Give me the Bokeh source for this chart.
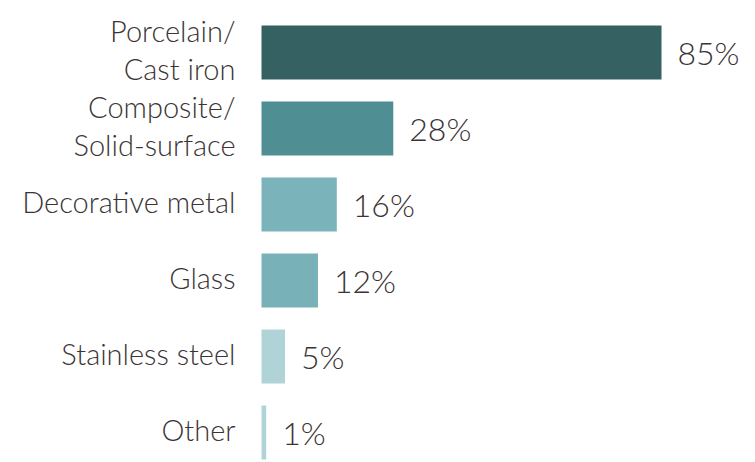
from bokeh.plotting import figure
from bokeh.models import ColumnDataSource, Range1d
from bokeh.core.properties import value
from bokeh.embed import file_html
from bokeh.resources import INLINE

categories = ["Porcelain/\nCast iron", "Composite/\nSolid-surface", "Decorative metal",
              "Glass", "Stainless steel", "Other"]
values = [85, 28, 16, 12, 5, 1]
value_labels = ["85%", "28%", "16%", "12%", "5%", "1%"]
colors = ["#356163", "#4f8e93", "#7ab3b9", "#78b2b8", "#afd3d6", "#afd3d6"]

pos = list(range(len(categories)))
src = ColumnDataSource(dict(pos=pos, cat=categories, val=values, lab=value_labels, col=colors))

W, H = 755, 462
zero_x = 261          # pixel of zero
ppu = 400 / 85        # pixels per percent
top0 = 52             # centre of first bar
pitch = 76
p = figure(width=W, height=H, output_backend="svg", toolbar_location=None,
           x_range=Range1d(-zero_x / ppu, (W - zero_x) / ppu),
           y_range=Range1d((H - top0) / pitch, -top0 / pitch),
           min_border_left=0, min_border_right=0, min_border_top=0, min_border_bottom=0)
p.xaxis.visible = False
p.yaxis.visible = False
p.xgrid.visible = False
p.ygrid.visible = False
p.outline_line_color = None
p.background_fill_color = "white"
p.border_fill_color = "white"

p.hbar(y="pos", right="val", left=0, height=54 / pitch, fill_color="col", line_color=None, source=src)

txt_color = "#3b3434"
font = value("Lato Light")
p.text(x="val", y="pos", text="lab", source=src, x_offset=16, text_align="left",
       text_baseline="middle", text_font=font, text_font_size="32px",
       text_color=txt_color)

p.text(x=0, y="pos", text="cat", source=src, x_offset=-26, y_offset=-3, text_align="right",
       text_baseline="middle", text_font=font, text_font_size="29px",
       text_color=txt_color, text_line_height=1.1)

open("out.html", "w").write(file_html(p, INLINE))
